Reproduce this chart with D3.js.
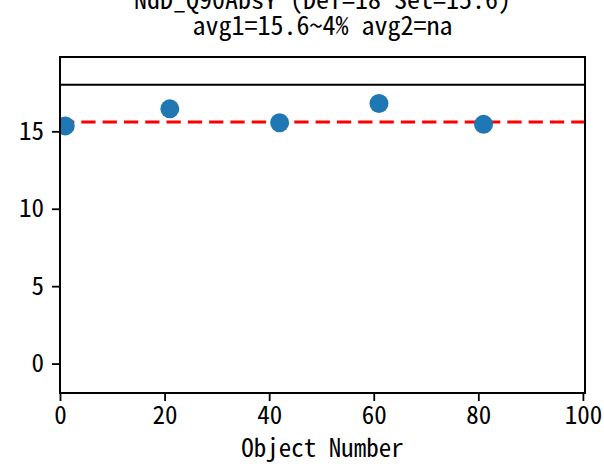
<!DOCTYPE html>
<html>
<head>
<meta charset="utf-8">
<script src="https://cdn.jsdelivr.net/npm/d3@7"></script>
<style>
  html, body { margin: 0; padding: 0; background: #fff; }
  svg text { font-family: "Noto Sans Mono CJK SC", "Noto Sans CJK SC", monospace; fill: #000; }
</style>
</head>
<body>
<svg id="chart" width="604" height="464"></svg>
<script>
// Data
const objectNumbers = [1, 21, 42, 61, 81];
const values = [15.35, 16.45, 15.55, 16.8, 15.45];
const defValue = 18;
const setValue = 15.6;
const xTicks = [0, 20, 40, 60, 80, 100];
const yTicks = [0, 5, 10, 15];
const titleLines = ["NdD_Q90AbsY (Def=18 Set=15.6)", "avg1=15.6~4% avg2=na"];
const xLabel = "Object Number";

const W = 604, H = 464;
const m = { left: 60, right: 19, top: 57, bottom: 71 };
const svg = d3.select("#chart");
const pw = W - m.left - m.right, ph = H - m.top - m.bottom;

const x = d3.scaleLinear().domain([0, 100.4]).range([m.left, m.left + pw]);
const y = d3.scaleLinear().domain([-1.9, 19.8]).range([m.top + ph, m.top]);

svg.append("defs").append("clipPath").attr("id", "clip")
  .append("rect").attr("x", m.left).attr("y", m.top).attr("width", pw).attr("height", ph);

const plot = svg.append("g").attr("clip-path", "url(#clip)");

plot.append("line")
  .attr("x1", x(0)).attr("x2", x(100.4))
  .attr("y1", y(defValue)).attr("y2", y(defValue))
  .attr("stroke", "#000").attr("stroke-width", 2);

plot.append("line")
  .attr("x1", x(0)).attr("x2", x(100.4))
  .attr("y1", y(setValue)).attr("y2", y(setValue))
  .attr("stroke", "#ff0000").attr("stroke-width", 3)
  .attr("stroke-dasharray", "14.3,7");

plot.selectAll("circle").data(objectNumbers).join("circle")
  .attr("cx", d => x(d))
  .attr("cy", (d, i) => y(values[i]))
  .attr("r", 9.5)
  .attr("fill", "#1f77b4");

const fs = 25;
const xAxis = d3.axisBottom(x).tickValues(xTicks).tickFormat(d3.format("d")).tickSize(8).tickPadding(5);
const yAxis = d3.axisLeft(y).tickValues(yTicks).tickFormat(d3.format("d")).tickSize(8).tickPadding(8);

const gx = svg.append("g").attr("transform", `translate(0,${m.top + ph})`).call(xAxis);
const gy = svg.append("g").attr("transform", `translate(${m.left},0)`).call(yAxis);
[gx, gy].forEach(g => {
  g.select(".domain").remove();
  g.selectAll(".tick line").attr("stroke", "#000").attr("stroke-width", 1.8);
  g.selectAll("text").style("font-size", fs + "px")
    .style("font-family", "'Noto Sans Mono CJK SC', 'Noto Sans CJK SC', monospace");
});

svg.append("rect").attr("x", m.left).attr("y", m.top).attr("width", pw).attr("height", ph)
  .attr("fill", "none").attr("stroke", "#000").attr("stroke-width", 2);

svg.append("text").attr("x", m.left + pw / 2).attr("y", 9)
  .attr("text-anchor", "middle").style("font-size", "26px").text(titleLines[0]);
svg.append("text").attr("x", m.left + pw / 2).attr("y", 35)
  .attr("text-anchor", "middle").style("font-size", "26px").text(titleLines[1]);

svg.append("text").attr("x", m.left + pw / 2).attr("y", 457)
  .attr("text-anchor", "middle").style("font-size", fs + "px").text(xLabel);
</script>
</body>
</html>
